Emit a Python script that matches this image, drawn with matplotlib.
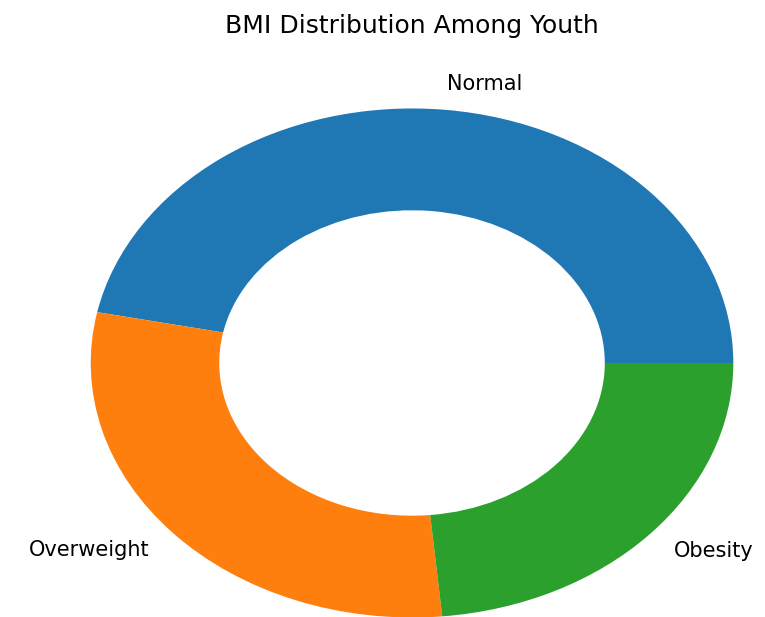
import matplotlib
matplotlib.use("Agg")
import matplotlib.pyplot as plt

categories = ["Normal", "Overweight", "Obesity"]
shares = [46.8, 29.7, 23.5]
colors = ["#1f77b4", "#ff7f0e", "#2ca02c"]

fig = plt.figure(figsize=(7.65, 6.17), dpi=100)
# stretched axes: the donut in the reference is wider than tall
ax = fig.add_axes([0.1186, -0.0008, 0.840, 0.825])
ax.pie(shares, labels=categories, colors=colors, startangle=0,
       wedgeprops=dict(width=0.4), textprops=dict(fontsize=15))
ax.set_aspect("auto")
ax.set_xlim(-1, 1)
ax.set_ylim(-1, 1)
fig.suptitle("BMI Distribution Among Youth", fontsize=18, x=0.538, y=0.978)

fig.savefig("out.png", dpi=100)
